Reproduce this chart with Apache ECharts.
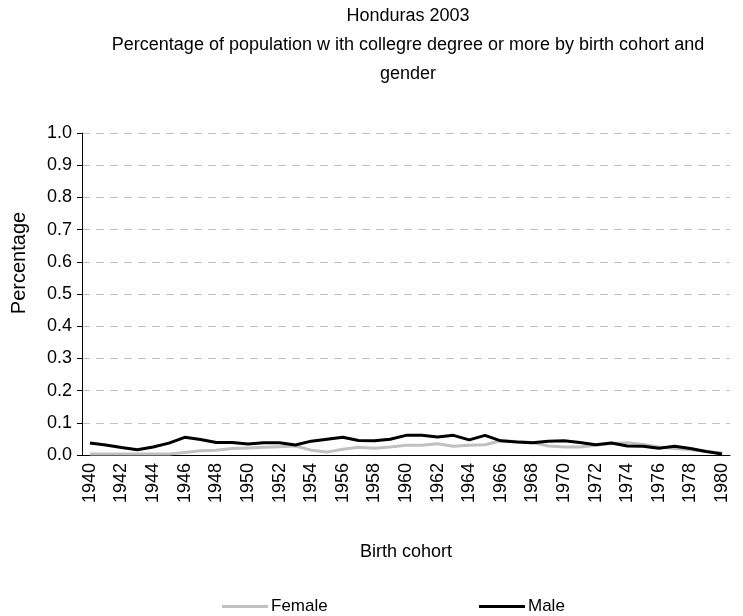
<!DOCTYPE html>
<html>
<head>
<meta charset="utf-8">
<script src="https://cdn.jsdelivr.net/npm/echarts@6/dist/echarts.min.js"></script>
<style>html,body{margin:0;padding:0;background:#fff}#c{width:743px;height:616px}</style>
</head>
<body>
<div id="c"></div>
<script>
const years = ['1940','1941','1942','1943','1944','1945','1946','1947','1948','1949','1950','1951','1952','1953','1954','1955','1956','1957','1958','1959','1960','1961','1962','1963','1964','1965','1966','1967','1968','1969','1970','1971','1972','1973','1974','1975','1976','1977','1978','1979','1980'];
const female = [0.003,0.003,0.003,0.003,0.003,0.003,0.008,0.013,0.015,0.020,0.022,0.024,0.026,0.028,0.015,0.009,0.018,0.024,0.021,0.025,0.030,0.030,0.035,0.027,0.030,0.032,0.044,0.042,0.039,0.028,0.025,0.025,0.030,0.036,0.038,0.033,0.025,0.020,0.016,0.011,0.006];
const male = [0.037,0.031,0.023,0.016,0.025,0.037,0.055,0.048,0.039,0.039,0.034,0.038,0.038,0.031,0.043,0.049,0.055,0.045,0.044,0.049,0.061,0.061,0.056,0.061,0.047,0.061,0.044,0.040,0.038,0.043,0.044,0.039,0.032,0.037,0.028,0.027,0.021,0.027,0.020,0.011,0.003];
const titleText = 'Honduras 2003\nPercentage of population w ith collegre degree or more by birth cohort and\ngender';
const yName = 'Percentage';

const sans = "'Liberation Sans',Arial,sans-serif";
const chart = echarts.init(document.getElementById('c'));
chart.setOption({
  animation: false,
  backgroundColor: '#fff',
  title: {
    text: titleText,
    left: 408, top: 2, padding: 0, textAlign: 'center',
    textStyle: {fontFamily: sans, fontSize: 18, fontWeight: 'normal', color: '#000', lineHeight: 29}
  },
  graphic: [{
    type: 'text', x: 19, y: 263, rotation: Math.PI / 2,
    style: {text: yName, fontFamily: sans, fontSize: 20, fill: '#000', align: 'center', verticalAlign: 'middle'}
  }],
  legend: [
    {data: ['Female'], left: 217, top: 593, itemWidth: 46, itemHeight: 3, icon: 'rect', itemGap: 4,
     textStyle: {fontFamily: sans, fontSize: 17, color: '#000', padding: [0,0,0,-2]}},
    {data: ['Male'], left: 474, top: 593, itemWidth: 46, itemHeight: 3, icon: 'rect', itemGap: 4,
     textStyle: {fontFamily: sans, fontSize: 17, color: '#000', padding: [0,0,0,-2]}}
  ],
  grid: {left: 82, right: 13, top: 133, bottom: 161, containLabel: false, outerBoundsMode: 'none'},
  xAxis: {
    type: 'category', data: years, boundaryGap: true,
    name: 'Birth cohort', nameLocation: 'middle', nameGap: 88,
    nameTextStyle: {fontFamily: sans, fontSize: 18, color: '#000'},
    axisLine: {lineStyle: {color: '#000', width: 1}},
    axisTick: {inside: true, length: 5, alignWithLabel: false, interval: 0, lineStyle: {color: '#000'}},
    axisLabel: {rotate: 90, interval: 1, fontFamily: sans, fontSize: 18, color: '#000', margin: 8},
    splitLine: {show: false}
  },
  yAxis: {
    type: 'value', min: 0, max: 1, interval: 0.1,
    axisLine: {show: true, lineStyle: {color: '#000'}},
    axisTick: {show: true, length: 5, lineStyle: {color: '#000'}},
    axisLabel: {fontFamily: sans, fontSize: 18, color: '#000', margin: 10, formatter: v => v.toFixed(1)},
    splitLine: {show: true, lineStyle: {color: '#c0c0c0', type: [8, 6], width: 1}}
  },
  series: [
    {name: 'Female', type: 'line', data: female, symbol: 'none', lineStyle: {color: '#c0c0c0', width: 3}, itemStyle: {color: '#c0c0c0'}},
    {name: 'Male', type: 'line', data: male, symbol: 'none', lineStyle: {color: '#000', width: 3}, itemStyle: {color: '#000'}}
  ]
});
</script>
</body>
</html>
